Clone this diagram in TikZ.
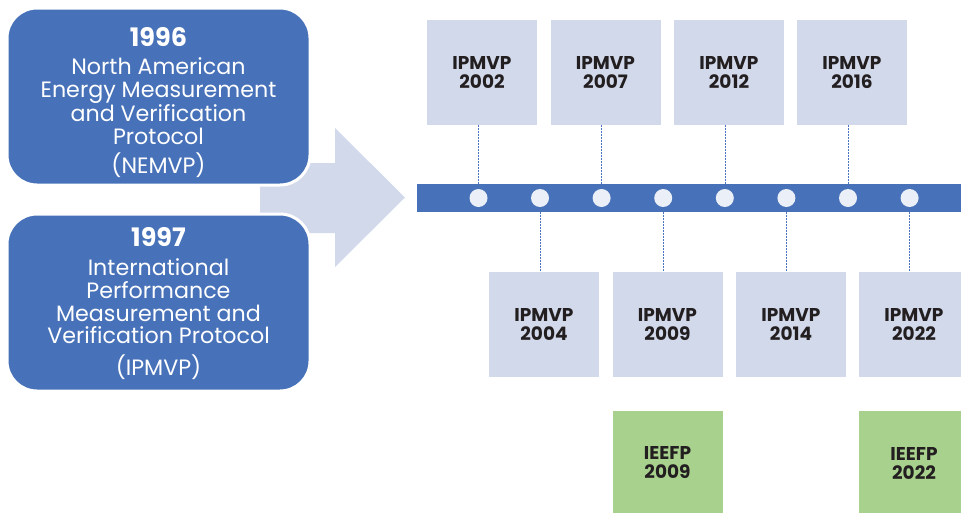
\documentclass[tikz,border=0pt]{standalone}
\usepackage{fontspec}
\setmainfont{Poppins}
\definecolor{boxblue}{HTML}{4771B8}
\definecolor{lav}{HTML}{D2D9EB}
\definecolor{grn}{HTML}{A9D18E}
\definecolor{dotc}{HTML}{EAEFF8}
\definecolor{txt}{HTML}{231F20}
\definecolor{dashc}{HTML}{4A74C0}
\begin{document}
\begin{tikzpicture}[x=1pt,y=-1pt,
  leftbox/.style={draw=white, line width=3pt, fill=boxblue, rounded corners=30pt,
    minimum width=303pt, minimum height=177pt, inner sep=0pt},
  yeartxt/.style={text=white, font=\bfseries\fontsize{25.5}{27}\selectfont, inner sep=0pt},
  bodytxt/.style={text=white, font=\fontsize{22.2}{22.7}\selectfont, align=center, inner sep=0pt},
  acrtxt/.style={text=white, font=\fontsize{22.2}{22.7}\selectfont, inner sep=0pt},
  verbox/.style={fill=lav, minimum width=110pt, minimum height=105pt, inner sep=0pt,
    text=txt, font=\bfseries\fontsize{18.5}{19}\selectfont, align=center},
  greenbox/.style={verbox, fill=grn},
  dotnode/.style={circle, fill=dotc, minimum size=18pt, inner sep=0pt},
  link/.style={dashc, line width=0.6pt, dash pattern=on 2pt off 1pt}
]
\useasboundingbox (0,0) rectangle (961,512);
\clip (0,0) rectangle (961,512);

% big arrow
\fill[lav] (260,163) -- (335,163) -- (335,128) -- (405,197.5) -- (335,267)
  -- (335,233) -- (260,233) -- cycle;

% left boxes
\node[leftbox] (nemvp) at (158.5,96.5) {};
\node[yeartxt] (y1996) at (158.5,37) {1996};
\node[bodytxt] (t1996) at (158.5,101) {North American\\Energy Measurement\\and Verification\\Protocol};
\node[acrtxt] (a1996) at (158.5,165) {(NEMVP)};

\node[leftbox] (ipmvp) at (158.5,302.5) {};
\node[yeartxt] (y1997) at (158.5,237) {1997};
\node[bodytxt] (t1997) at (158.5,301.5) {International\\Performance\\Measurement and\\Verification Protocol};
\node[acrtxt] (a1997) at (158.5,367) {(IPMVP)};

% timeline bar
\node[fill=boxblue, minimum width=560pt, minimum height=28pt, inner sep=0pt, anchor=west] (bar) at (417,198) {};

% dots
\foreach \i/\x in {1/478.5,2/540,3/601.6,4/663.2,5/724.8,6/786.4,7/848,8/909.6}{
  \node[dotnode] (c\i) at (\x,198) {};
}

% top boxes
\node[verbox] (v2002) at (482,72.5) {IPMVP\\2002};
\node[verbox] (v2007) at (605.5,72.5) {IPMVP\\2007};
\node[verbox] (v2012) at (729,72.5) {IPMVP\\2012};
\node[verbox] (v2016) at (852,72.5) {IPMVP\\2016};

% bottom boxes
\node[verbox] (v2004) at (544,324.5) {IPMVP\\2004};
\node[verbox] (v2009) at (667.5,324.5) {IPMVP\\2009};
\node[verbox] (v2014) at (791,324.5) {IPMVP\\2014};
\node[verbox] (v2022) at (914,324.5) {IPMVP\\2022};

% green boxes
\node[greenbox] (e2009) at (667.5,463) {IEEFP\\2009};
\node[greenbox] (e2022) at (914,463) {IEEFP\\2022};

% dashed links
\draw[link] (c1 |- v2002.south) -- (c1 |- bar.north);
\draw[link] (c3 |- v2007.south) -- (c3 |- bar.north);
\draw[link] (c5 |- v2012.south) -- (c5 |- bar.north);
\draw[link] (c7 |- v2016.south) -- (c7 |- bar.north);
\draw[link] (c2 |- bar.south) -- (c2 |- v2004.north);
\draw[link] (c4 |- bar.south) -- (c4 |- v2009.north);
\draw[link] (c6 |- bar.south) -- (c6 |- v2014.north);
\draw[link] (c8 |- bar.south) -- (c8 |- v2022.north);
\end{tikzpicture}
\end{document}
